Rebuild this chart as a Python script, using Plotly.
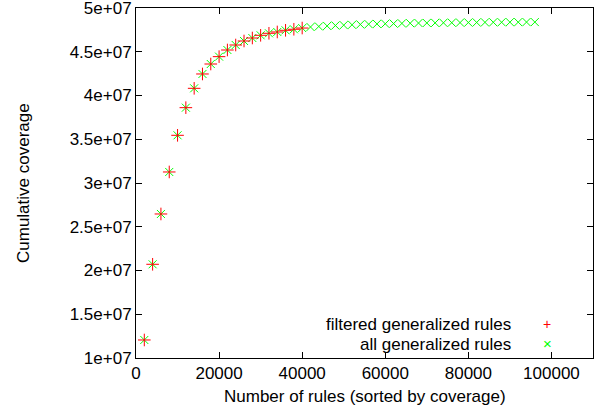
import plotly.graph_objects as go

# ---- data ----
filtered_x = [2000 * i for i in range(1, 21)]
filtered_y = [1.206e7, 2.071e7, 2.646e7, 3.126e7, 3.545e7, 3.861e7, 4.082e7, 4.246e7,
              4.360e7, 4.444e7, 4.520e7, 4.577e7, 4.623e7, 4.657e7, 4.688e7, 4.711e7,
              4.726e7, 4.745e7, 4.757e7, 4.771e7]

all_x = [2000 * i for i in range(1, 49)]
all_y = filtered_y + [4.783e7, 4.789e7, 4.795e7, 4.800e7, 4.804e7, 4.808e7, 4.812e7,
                      4.815e7, 4.818e7, 4.820e7, 4.822e7, 4.824e7, 4.826e7, 4.828e7,
                      4.829e7, 4.830e7, 4.831e7, 4.832e7, 4.833e7, 4.834e7, 4.835e7,
                      4.836e7, 4.837e7, 4.837e7, 4.838e7, 4.838e7, 4.839e7, 4.839e7]

x_ticks = [0, 20000, 40000, 60000, 80000, 100000]
x_tick_labels = ["0", "20000", "40000", "60000", "80000", "100000"]
y_ticks = [1e7, 1.5e7, 2e7, 2.5e7, 3e7, 3.5e7, 4e7, 4.5e7, 5e7]
y_tick_labels = ["1e+07", "1.5e+07", "2e+07", "2.5e+07", "3e+07", "3.5e+07",
                 "4e+07", "4.5e+07", "5e+07"]

series_names = ["filtered generalized rules", "all generalized rules"]
RED = "#ff0000"
GREEN = "#00ff00"
FONT = "Liberation Sans, Arial, sans-serif"
FS = 17

fig = go.Figure()
fig.add_trace(go.Scatter(
    x=all_x, y=all_y, mode="markers", name=series_names[1],
    marker=dict(symbol="x-thin", size=8, line=dict(color=GREEN, width=1), color=GREEN),
))
fig.add_trace(go.Scatter(
    x=filtered_x, y=filtered_y, mode="markers", name=series_names[0],
    marker=dict(symbol="cross-thin", size=9, line=dict(color=RED, width=1), color=RED),
))

axis_common = dict(
    showline=True, linecolor="black", linewidth=1, mirror="allticks",
    ticks="inside", ticklen=6, tickcolor="black", tickwidth=1,
    showgrid=False, zeroline=False, automargin=False,
    ticklabeloverflow="allow",
    tickfont=dict(family=FONT, size=FS, color="black"),
)

fig.update_xaxes(range=[0, 110000], tickmode="array", tickvals=x_ticks,
                 ticktext=x_tick_labels, **axis_common)
fig.update_yaxes(range=[1e7, 5e7], tickmode="array", tickvals=y_ticks,
                 ticktext=y_tick_labels, **axis_common)

annotations = [
    dict(text="Number of rules (sorted by coverage)", xref="paper", yref="paper",
         x=0.5, y=0, yshift=-38, xanchor="center", yanchor="middle", showarrow=False,
         font=dict(family=FONT, size=FS, color="black")),
    dict(text="Cumulative coverage", xref="paper", yref="paper", x=0, y=0.5,
         xshift=-113, xanchor="center", yanchor="middle", textangle=-90, showarrow=False,
         font=dict(family=FONT, size=FS, color="black")),
    # legend (gnuplot style: text right-aligned, sample to the right)
    dict(text=series_names[0], xref="paper", yref="paper", x=0, y=0, xshift=512 - 136,
         yshift=357.7 - 324, xanchor="right", yanchor="middle", showarrow=False,
         borderpad=0, font=dict(family=FONT, size=FS, color="black")),
    dict(text=series_names[1], xref="paper", yref="paper", x=0, y=0, xshift=512 - 136,
         yshift=357.7 - 344, xanchor="right", yanchor="middle", showarrow=False,
         borderpad=0, font=dict(family=FONT, size=FS, color="black")),
    dict(text="+", xref="paper", yref="paper", x=0, y=0, xshift=547 - 136,
         yshift=357.7 - 324, xanchor="center", yanchor="middle", showarrow=False,
         borderpad=0, font=dict(family=FONT, size=14, color=RED)),
    dict(text="×", xref="paper", yref="paper", x=0, y=0, xshift=547 - 136,
         yshift=357.7 - 343, xanchor="center", yanchor="middle", showarrow=False,
         borderpad=0, font=dict(family=FONT, size=15, color=GREEN)),
]

fig.update_layout(
    width=601, height=412,
    margin=dict(l=136, r=8, t=8, b=54, pad=0),
    paper_bgcolor="white", plot_bgcolor="white",
    showlegend=False,
    annotations=annotations,
    font=dict(family=FONT, size=FS, color="black"),
)

fig.write_html("out.html", config={"displayModeBar": False},
               post_script="document.body.style.margin='0';document.body.style.overflow='hidden';")
